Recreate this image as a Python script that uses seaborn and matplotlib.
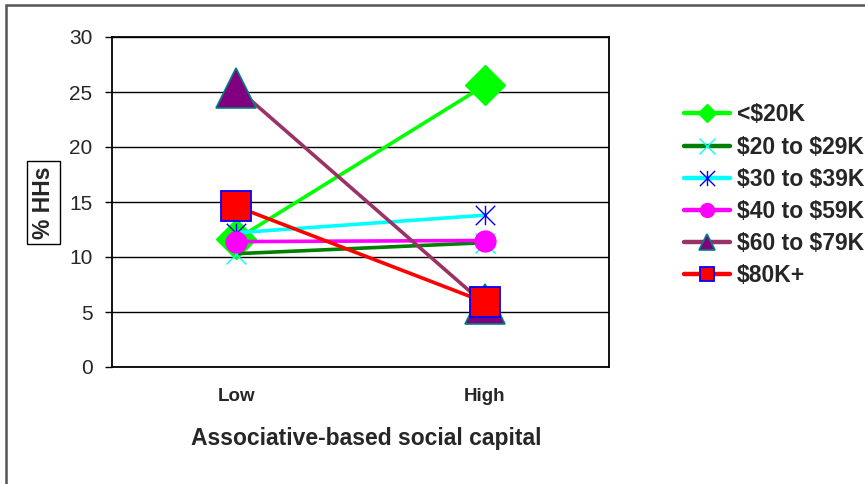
import matplotlib
matplotlib.use("Agg")
import matplotlib.pyplot as plt
import seaborn as sns
import numpy as np
from matplotlib.lines import Line2D
from matplotlib.path import Path
from matplotlib.patches import Rectangle

# ---- data -----------------------------------------------------------
levels = ["Low", "High"]
income_groups = ["<$20K", "$20 to $29K", "$30 to $39K",
                 "$40 to $59K", "$60 to $79K", "$80K+"]
pct_under_20k = [11.6, 25.6]
pct_20_29k = [10.3, 11.3]
pct_30_39k = [12.2, 13.8]
pct_40_59k = [11.4, 11.5]
pct_60_79k = [25.4, 5.7]
pct_80k_plus = [14.6, 5.9]
y_ticks = [0, 5, 10, 15, 20, 25, 30]

series_values = [pct_under_20k, pct_20_29k, pct_30_39k,
                 pct_40_59k, pct_60_79k, pct_80k_plus]

# asterisk marker: vertical bar plus a diagonal cross
star_path = Path([(0, -1), (0, 1), (-1, -1), (1, 1), (-1, 1), (1, -1)],
                 [Path.MOVETO, Path.LINETO, Path.MOVETO, Path.LINETO,
                  Path.MOVETO, Path.LINETO])

# line colour, line width, marker, face, edge, size (plot), size (legend), edge width
styles = [
    dict(color="#00FF00", lw=2.6, marker="D", mfc="#00FF00", mec="#00FF00", ms=20, lms=9.5, mew=1.0),
    dict(color="#008000", lw=2.6, marker="x", mfc="none", mec="#00FFFF", ms=14, lms=11, mew=1.0),
    dict(color="#00FFFF", lw=2.6, marker=star_path, mfc="none", mec="#0000FF", ms=14, lms=11, mew=1.0),
    dict(color="#FF00FF", lw=2.6, marker="o", mfc="#FF00FF", mec="#FF00FF", ms=15, lms=10, mew=1.0),
    dict(color="#993366", lw=2.6, marker="^", mfc="#800080", mec="#008080", ms=29, lms=12, mew=1.2),
    dict(color="#FF0000", lw=2.6, marker="s", mfc="#FF0000", mec="#0000FF", ms=21, lms=10.5, mew=1.3),
]

sns.set_theme(style="white")
plt.rcParams["font.family"] = ["Liberation Sans", "DejaVu Sans"]
plt.rcParams["text.parse_math"] = False

W, H = 865, 484
fig = plt.figure(figsize=(W / 100, H / 100), dpi=100)
ax = fig.add_axes([112 / W, 1 - 367 / H, (609 - 112) / W, (367 - 37) / H])

x_pos = np.arange(len(levels))
for vals, st in zip(series_values, styles):
    sns.lineplot(x=x_pos, y=vals, ax=ax, color=st["color"], linewidth=st["lw"],
                 marker=st["marker"], markersize=st["ms"],
                 markerfacecolor=st["mfc"], markeredgecolor=st["mec"],
                 markeredgewidth=st["mew"], legend=False, zorder=3)

ax.set_xlim(-0.5, len(levels) - 0.5)
ax.set_ylim(0, 30)
ax.set_yticks(y_ticks)
ax.set_yticklabels([str(v) for v in y_ticks], fontsize=15)
ax.set_xticks(x_pos)
ax.set_xticklabels(levels, fontsize=13.5, fontweight="bold")
ax.set_xticks([-0.5, 0.5, 1.5], minor=True)
ax.tick_params(axis="x", which="major", length=0, pad=15)
ax.tick_params(axis="x", which="minor", length=5, width=1, direction="out", color="black")
ax.tick_params(axis="y", which="major", length=5, width=1, direction="out",
               color="black", pad=9, left=True)
ax.set_xlabel("")
ax.set_ylabel("")
ax.yaxis.grid(True, color="black", linewidth=1.0)
ax.set_axisbelow(True)
for sp in ax.spines.values():
    sp.set_visible(True)
    sp.set_color("black")
    sp.set_linewidth(1.3)

# axis titles
fig.text(366 / W, 1 - 438 / H, "Associative-based social capital",
         ha="center", va="center", fontsize=16.5, fontweight="bold")
fig.text(43.5 / W, 1 - 202.5 / H, "% HHs", rotation=90, ha="center", va="center",
         fontsize=16.5, fontweight="bold",
         bbox=dict(boxstyle="square,pad=0.22", facecolor="white",
                   edgecolor="black", linewidth=1.0))

# legend
handles = [Line2D([0], [0], color=st["color"], linewidth=st["lw"] + 0.6,
                  marker=st["marker"], markersize=st["lms"],
                  markerfacecolor=st["mfc"], markeredgecolor=st["mec"],
                  markeredgewidth=st["mew"])
           for st in styles]
leg = fig.legend(handles, income_groups, loc="upper left",
                 bbox_to_anchor=(673 / W, 1 - 92 / H), frameon=False,
                 prop=dict(size=16.5, weight="bold"), handlelength=2.0,
                 handletextpad=0.3, labelspacing=0.4, borderpad=0)

# outer chart border
fig.patches.append(Rectangle((6 / W, -0.05), 1.2, 1 - 5 / H + 0.05,
                             transform=fig.transFigure, fill=False,
                             edgecolor="#555555", linewidth=1.8))

fig.savefig("out.png", dpi=100)
